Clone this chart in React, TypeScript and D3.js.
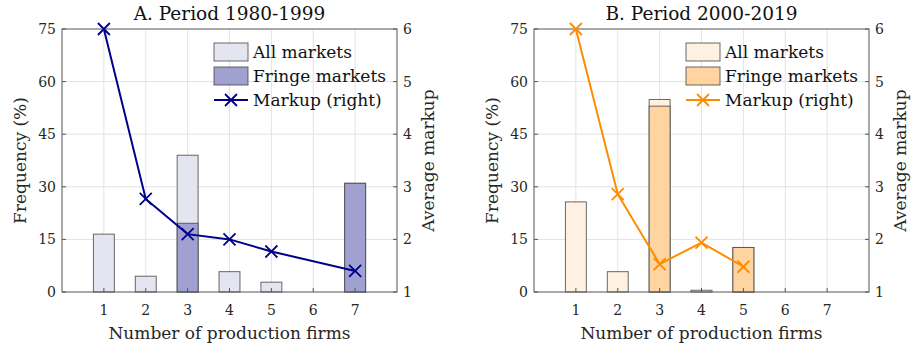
import * as d3 from "d3";
import { useEffect, useRef } from "react";

// number of production firms on the x axis
const firms = [1, 2, 3, 4, 5, 6, 7];
const freqTicks = [0, 15, 30, 45, 60, 75];
const markupTicks = [1, 2, 3, 4, 5, 6];

// panel A, 1980-1999
const allA = [16.5, 4.5, 39, 5.8, 2.8, 0, 31];
const fringeA = [0, 0, 19.6, 0, 0, 0, 31];
const markupFirmsA = [1, 2, 3, 4, 5, 7];
const markupA = [6.0, 2.77, 2.1, 2.0, 1.77, 1.4];

// panel B, 2000-2019
const allB = [25.7, 5.8, 54.9, 0.5, 12.7, 0, 0];
const fringeB = [0, 0, 53, 0, 12.7, 0, 0];
const markupFirmsB = [1, 2, 3, 4, 5];
const markupB = [6.0, 2.86, 1.53, 1.94, 1.48];

const FONT = "DejaVu Serif";

const panels = [
  {
    title: "A. Period 1980-1999",
    all: allA, fringe: fringeA, mx: markupFirmsA, my: markupA,
    line: "#00008b", allFill: "#e5e5f2", fringeFill: "#a1a1d1",
    x0: 62, x1: 397
  },
  {
    title: "B. Period 2000-2019",
    all: allB, fringe: fringeB, mx: markupFirmsB, my: markupB,
    line: "#ff8c00", allFill: "#fef1e1", fringeFill: "#fed4a0",
    x0: 534, x1: 869
  }
];

const App = () => {
  const chartRef = useRef(null);

  useEffect(() => {
    document.body.style.margin = "0";
    const svg = d3.select(chartRef.current);
    svg.selectAll("*").remove();

    const top = 29;
    const bottom = 292;
    const axisColor = "#555";

    panels.forEach((p) => {
      const g = svg.append("g");
      const x = d3.scaleLinear().domain([0, 8]).range([p.x0, p.x1]);
      const yL = d3.scaleLinear().domain([0, 75]).range([bottom, top]);
      const yR = d3.scaleLinear().domain([1, 6]).range([bottom, top]);
      const bw = x(0.5) - x(0);

      // grid
      g.selectAll(".gx").data(firms).enter().append("line")
        .attr("x1", d => x(d)).attr("x2", d => x(d))
        .attr("y1", top).attr("y2", bottom)
        .style("stroke", "#e3e3e3").style("stroke-width", 1);
      g.selectAll(".gy").data(freqTicks.slice(1, -1)).enter().append("line")
        .attr("x1", p.x0).attr("x2", p.x1)
        .attr("y1", d => yL(d)).attr("y2", d => yL(d))
        .style("stroke", "#e3e3e3").style("stroke-width", 1);

      // bars: all markets, then fringe on top
      const drawBars = (vals, fill) => {
        g.selectAll(".bar").data(firms.map((f, i) => ({ f, v: vals[i] })).filter(d => d.v > 0))
          .enter().append("rect")
          .attr("x", d => x(d.f) - bw / 2)
          .attr("y", d => yL(d.v))
          .attr("width", bw)
          .attr("height", d => bottom - yL(d.v))
          .style("fill", fill)
          .style("stroke", "#444")
          .style("stroke-opacity", 0.8)
          .style("stroke-width", 1);
      };
      drawBars(p.all, p.allFill);
      drawBars(p.fringe, p.fringeFill);

      // box and ticks
      g.append("rect")
        .attr("x", p.x0).attr("y", top)
        .attr("width", p.x1 - p.x0).attr("height", bottom - top)
        .style("fill", "none").style("stroke", axisColor).style("stroke-width", 1);
      g.selectAll(".tx").data(firms).enter().append("line")
        .attr("x1", d => x(d)).attr("x2", d => x(d))
        .attr("y1", bottom).attr("y2", bottom - 4)
        .style("stroke", axisColor);
      g.selectAll(".tl").data(freqTicks).enter().append("line")
        .attr("x1", p.x0).attr("x2", p.x0 + 4)
        .attr("y1", d => yL(d)).attr("y2", d => yL(d))
        .style("stroke", axisColor);
      g.selectAll(".tr").data(markupTicks).enter().append("line")
        .attr("x1", p.x1).attr("x2", p.x1 - 4)
        .attr("y1", d => yR(d)).attr("y2", d => yR(d))
        .style("stroke", axisColor);

      // tick labels
      g.selectAll(".lx").data(firms).enter().append("text")
        .attr("x", d => x(d)).attr("y", 315)
        .attr("text-anchor", "middle")
        .style("font-family", FONT).style("font-size", "14px").style("fill", "#262626")
        .text(d => d);
      g.selectAll(".ll").data(freqTicks).enter().append("text")
        .attr("x", p.x0 - 6).attr("y", d => yL(d)).attr("dy", "0.35em")
        .attr("text-anchor", "end")
        .style("font-family", FONT).style("font-size", "14px").style("fill", "#262626")
        .text(d => d);
      g.selectAll(".lr").data(markupTicks).enter().append("text")
        .attr("x", p.x1 + 6).attr("y", d => yR(d)).attr("dy", "0.35em")
        .attr("text-anchor", "start")
        .style("font-family", FONT).style("font-size", "14px").style("fill", "#262626")
        .text(d => d);

      // titles
      const cx = (p.x0 + p.x1) / 2;
      g.append("text").attr("x", cx).attr("y", 20).attr("text-anchor", "middle")
        .style("font-family", FONT).style("font-size", "18.5px").style("fill", "#111")
        .text(p.title);
      g.append("text").attr("x", cx).attr("y", 339).attr("text-anchor", "middle")
        .style("font-family", FONT).style("font-size", "17px").style("fill", "#262626")
        .text("Number of production firms");
      g.append("text")
        .attr("transform", `translate(${p.x0 - 36}, ${(top + bottom) / 2}) rotate(-90)`)
        .attr("text-anchor", "middle")
        .style("font-family", FONT).style("font-size", "17px").style("fill", "#262626")
        .text("Frequency (%)");
      g.append("text")
        .attr("transform", `translate(${p.x1 + 37}, ${(top + bottom) / 2}) rotate(-90)`)
        .attr("text-anchor", "middle")
        .style("font-family", FONT).style("font-size", "17px").style("fill", "#262626")
        .text("Average markup");

      // markup line
      const pts = p.mx.map((f, i) => [x(f), yR(p.my[i])]);
      g.append("path")
        .attr("d", d3.line()(pts))
        .style("fill", "none").style("stroke", p.line).style("stroke-width", 2);
      const cross = (cx0, cy0, s) => `M${cx0 - s},${cy0 - s}L${cx0 + s},${cy0 + s}M${cx0 - s},${cy0 + s}L${cx0 + s},${cy0 - s}`;
      g.selectAll(".mk").data(pts).enter().append("path")
        .attr("d", d => cross(d[0], d[1], 6))
        .style("stroke", p.line).style("stroke-width", 1.8).style("fill", "none");

      // legend
      const lx = p.x1 - 183;
      const rows = [52, 76, 100];
      g.append("rect").attr("x", lx).attr("y", 43).attr("width", 34).attr("height", 18)
        .style("fill", p.allFill).style("stroke", "#444").style("stroke-opacity", 0.8);
      g.append("rect").attr("x", lx).attr("y", 67).attr("width", 34).attr("height", 18)
        .style("fill", p.fringeFill).style("stroke", "#444").style("stroke-opacity", 0.8);
      g.append("line").attr("x1", lx).attr("x2", lx + 34).attr("y1", 100).attr("y2", 100)
        .style("stroke", p.line).style("stroke-width", 2);
      g.append("path").attr("d", cross(lx + 17, 100, 6))
        .style("stroke", p.line).style("stroke-width", 1.8);
      ["All markets", "Fringe markets", "Markup (right)"].forEach((t, i) => {
        g.append("text").attr("x", lx + 39).attr("y", rows[i]).attr("dy", "0.35em")
          .style("font-family", FONT).style("font-size", "17px").style("fill", "#111")
          .text(t);
      });
    });
  }, []);

  return (
    <svg ref={chartRef} width={911} height={349} style={{ display: "block", background: "#fff" }}></svg>
  );
};

export default App;
